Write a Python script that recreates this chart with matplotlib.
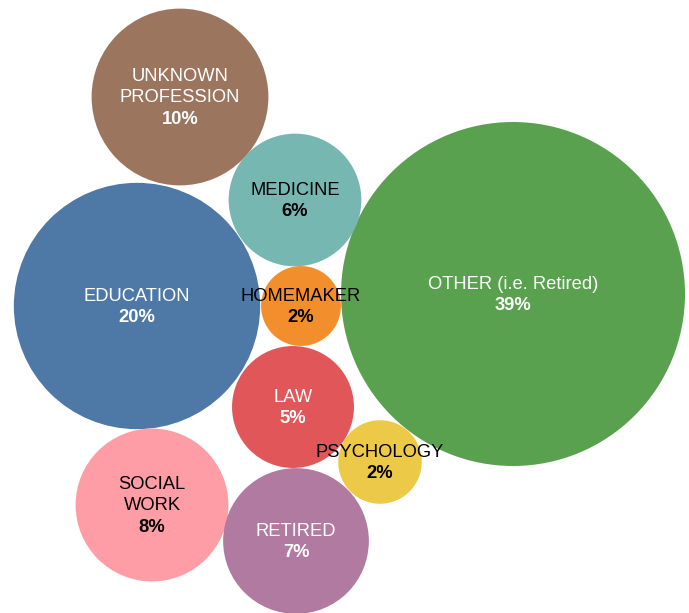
import matplotlib
matplotlib.use("Agg")
import matplotlib.pyplot as plt
from matplotlib.patches import Circle
import numpy as np

# ---- data ----
categories = ["OTHER (i.e. Retired)", "EDUCATION", "UNKNOWN\nPROFESSION", "SOCIAL\nWORK",
              "RETIRED", "MEDICINE", "LAW", "HOMEMAKER", "PSYCHOLOGY"]
shares = [39.0, 20.0, 10.3, 7.7, 7.0, 5.8, 4.9, 2.1, 2.3]
pct_labels = ["39%", "20%", "10%", "8%", "7%", "6%", "5%", "2%", "2%"]

# ---- layout / style ----
centers = [(513, 294), (137, 306), (180, 97), (152, 505), (296, 541),
           (295, 200), (293, 407), (301, 306), (380, 462)]
colors = ["#59a14f", "#4e79a7", "#9c755f", "#ff9da7", "#b07aa1",
          "#76b7b2", "#e15759", "#f28e2b", "#edc948"]
text_colors = ["white", "white", "white", "black", "white",
               "black", "white", "black", "black"]

W, H = 689, 613
fig = plt.figure(figsize=(W / 100, H / 100), dpi=100)
ax = fig.add_axes([0, 0, 1, 1])
ax.set_xlim(0, W)
ax.set_ylim(H, 0)
ax.set_aspect("equal")
ax.axis("off")

k = 172 / np.sqrt(39.0)
for s, (cx, cy), col in zip(shares, centers, colors):
    r = k * np.sqrt(s)
    ax.add_patch(Circle((cx, cy), r, facecolor=col, edgecolor="none"))

for cat, pl, (cx, cy), tc in zip(categories, pct_labels, centers, text_colors):
    lines = cat.split("\n")
    n = len(lines) + 1
    step = 21.5
    y0 = cy - step * (n - 1) / 2 + 1
    for i, ln in enumerate(lines):
        ax.text(cx, y0 + i * step, ln, ha="center", va="center", color=tc,
                fontsize=13.2, family="Liberation Sans")
    ax.text(cx, y0 + len(lines) * step, pl, ha="center", va="center", color=tc,
            fontsize=13.2, fontweight="bold", family="Liberation Sans")

fig.savefig("out.png", dpi=100)
